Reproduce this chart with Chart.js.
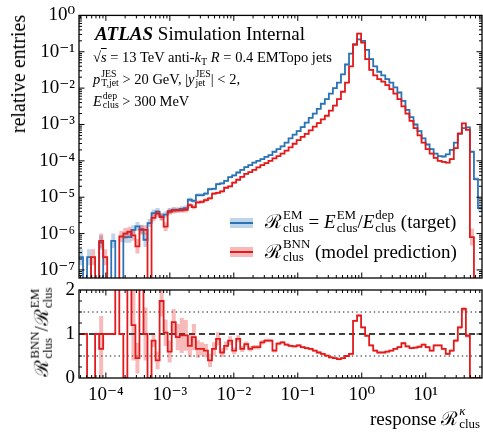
<!DOCTYPE html>
<html lang="en">
<head>
<meta charset="UTF-8">
<title>BNN cluster response</title>
<script src="https://cdn.jsdelivr.net/npm/chart.js"></script>
<style>
  body { margin: 0; background: #fff; }
  #wrap { position: relative; width: 483px; height: 433px; overflow: hidden;
          font-family: "Liberation Serif", "DejaVu Serif", serif; color: #000; }
  .pane { position: absolute; left: 0; width: 483px; }
  .t { position: absolute; white-space: nowrap; line-height: 1.6; }
  .ss { display: inline-block; vertical-align: -0.3em; font-size: 0.68em; line-height: 1; text-align: left; margin-left: 1px; }
  .ss span { display: block; }
  .sb { font-size: 0.7em; vertical-align: -0.25em; }
  .rot { position: absolute; white-space: nowrap; line-height: 1.6; transform: translate(-50%, -50%) rotate(-90deg); }
  .hd { position: absolute; }
</style>
</head>
<body>
<div id="wrap">
  <div class="pane" style="top:0;height:300px"><canvas id="mainChart"></canvas></div>
  <div class="pane" style="top:274px;height:134px"><canvas id="ratioChart"></canvas></div>

  <div class="rot" style="left:18px;top:74px;font-size:20px;line-height:1">relative entries</div>
  <div class="rot" style="left:42px;top:332px;font-size:19px">ℛ<span class="ss"><span>BNN</span><span>clus</span></span>/ℛ<span class="ss"><span>EM</span><span>clus</span></span></div>

  <div class="t" style="left:95px;top:19px;font-size:19px"><b><i>ATLAS</i></b> Simulation Internal</div>
  <div class="t" style="left:93px;top:46px;font-size:14.5px">√<span style="text-decoration:overline"><i>s</i></span> = 13 TeV anti-<i>k</i><span class="sb">T</span> <i>R</i> = 0.4 EMTopo jets</div>
  <div class="t" style="left:93px;top:67.5px;font-size:14.5px"><i>p</i><span class="ss"><span>JES</span><span>T,jet</span></span> &gt; 20 GeV, |<i>y</i><span class="ss"><span>JES</span><span>jet</span></span>| &lt; 2,</div>
  <div class="t" style="left:93px;top:89.5px;font-size:14.5px"><i>E</i><span class="ss"><span>dep</span><span>clus</span></span> &gt; 300 MeV</div>

  <div class="hd" style="left:230px;top:218px;width:23px;height:10px;background:rgba(43,115,181,0.3)"></div>
  <div class="hd" style="left:230px;top:222px;width:23px;height:2px;background:#2b73b5"></div>
  <div class="hd" style="left:230px;top:247px;width:23px;height:10px;background:rgba(227,26,28,0.3)"></div>
  <div class="hd" style="left:230px;top:251px;width:23px;height:2px;background:#e31a1c"></div>
  <div class="t" style="left:265px;top:207px;font-size:19px">ℛ<span class="ss"><span>EM</span><span>clus</span></span> = <i>E</i><span class="ss"><span>EM</span><span>clus</span></span>/<i>E</i><span class="ss"><span>dep</span><span>clus</span></span> (target)</div>
  <div class="t" style="left:265px;top:236.5px;font-size:19px">ℛ<span class="ss"><span>BNN</span><span>clus</span></span> (model prediction)</div>

  <div class="t" style="left:370px;top:403.5px;font-size:19px">response ℛ<span class="ss"><span><i>κ</i></span><span>clus</span></span></div>
</div>

<script>
  // 100 log-spaced bins in the cluster response
  const nBins = 100;
  const logLo = -4.42, logHi = 1.88;

  // log10(relative entries) per bin, null = empty bin
  const blueLog = [
    -6.65, null, -6.65, null, null, -6.25, null, null, -6.2, null,
    null, -6.1, -6.1, -5.9, -5.8, -5.88, -6.17, -5.71, -5.44, -5.4,
    -5.53, -5.48, -5.38, -5.35, -5.35, -5.32, -5.3, -5.07, -5.1, -4.94,
    -4.94, -4.9, -4.78, -4.77, -4.64, -4.62, -4.55, -4.45, -4.4, -4.32,
    -4.25, -4.17, -4.12, -4.05, -4.0, -3.95, -3.89, -3.84, -3.75, -3.68,
    -3.6, -3.5, -3.38, -3.28, -3.18, -3.07, -2.95, -2.82, -2.7, -2.57,
    -2.43, -2.3, -2.15, -2.0, -1.85, -1.62, -1.35, -1.05, -0.8, -0.66,
    -0.7, -0.95, -1.2, -1.4, -1.55, -1.65, -1.75, -1.85, -1.98, -2.12,
    -2.35, -2.6, -2.8, -3.0, -3.18, -3.38, -3.55, -3.68, -3.8, -3.87,
    -3.88, -3.82, -3.7, -3.5, -3.25, -3.1, -3.08, -3.75, -4.5, -5.3
  ];
  const redLog = [
    null, null, null, -6.65, null, -6.2, -6.65, null, null, null,
    -6.08, -6.0, -5.95, -6.05, -6.35, -5.9, -5.9, null, -5.57, -5.45,
    -5.55, -5.81, -5.4, -5.37, -5.36, -5.36, -5.35, -5.22, -5.27, -5.14,
    -5.13, -5.08, -5.03, -4.9, -4.88, -4.84, -4.74, -4.7, -4.6, -4.52,
    -4.44, -4.36, -4.31, -4.25, -4.18, -4.12, -4.06, -4.0, -3.93, -3.87,
    -3.8, -3.72, -3.63, -3.53, -3.43, -3.34, -3.26, -3.16, -3.06, -2.96,
    -2.86, -2.76, -2.62, -2.48, -2.3, -2.1, -1.85, -1.4, -0.8, -0.5,
    -0.75, -1.2, -1.5, -1.65, -1.75, -1.82, -1.92, -2.03, -2.15, -2.3,
    -2.5, -2.7, -2.9, -3.1, -3.3, -3.5, -3.68, -3.8, -3.92, -4.0,
    -4.03, -4.05, -3.95, -3.65, -3.25, -2.97, -3.15, -6.1, null, null
  ];
  // half width of the uncertainty band, in decades
  const blueErr = [
    0.22, 0, 0.22, 0, 0, 0.2, 0, 0, 0.2, 0,
    0, 0.15, 0.15, 0.13, 0.12, 0.12, 0.2, 0.11, 0.1, 0.1,
    0.1, 0.09, 0.08, 0.08, 0.07, 0.07, 0.07, 0.06, 0.06, 0.05,
    0.05, 0.05, 0.04, 0.04, 0.035, 0.035, 0.03, 0.03, 0.03, 0.03,
    0.025, 0.025, 0.025, 0.025, 0.025, 0.025, 0.02, 0.02, 0.02, 0.02,
    0.02, 0.02, 0.02, 0.02, 0.02, 0.02, 0.02, 0.02, 0.02, 0.02,
    0.02, 0.02, 0.02, 0.02, 0.02, 0.02, 0.02, 0.02, 0.02, 0.02,
    0.02, 0.02, 0.02, 0.02, 0.02, 0.02, 0.02, 0.02, 0.02, 0.02,
    0.02, 0.02, 0.02, 0.02, 0.02, 0.02, 0.02, 0.02, 0.02, 0.02,
    0.02, 0.02, 0.02, 0.02, 0.02, 0.02, 0.02, 0.03, 0.05, 0.09
  ];
  const redErr = [
    0, 0, 0, 0.22, 0, 0.2, 0.22, 0, 0, 0,
    0.15, 0.15, 0.14, 0.15, 0.2, 0.13, 0.13, 0, 0.1, 0.1,
    0.1, 0.12, 0.08, 0.08, 0.07, 0.07, 0.07, 0.06, 0.06, 0.05,
    0.05, 0.05, 0.04, 0.04, 0.035, 0.035, 0.03, 0.03, 0.03, 0.03,
    0.025, 0.025, 0.025, 0.025, 0.025, 0.025, 0.02, 0.02, 0.02, 0.02,
    0.02, 0.02, 0.02, 0.02, 0.02, 0.02, 0.02, 0.02, 0.02, 0.02,
    0.02, 0.02, 0.02, 0.02, 0.02, 0.02, 0.02, 0.02, 0.02, 0.02,
    0.02, 0.02, 0.02, 0.02, 0.02, 0.02, 0.02, 0.02, 0.02, 0.02,
    0.02, 0.02, 0.02, 0.02, 0.02, 0.02, 0.02, 0.02, 0.02, 0.02,
    0.02, 0.02, 0.02, 0.02, 0.02, 0.02, 0.02, 0.23, 0, 0
  ];
  // ratio BNN / EM per bin (3 = off the top of the panel)
  const ratioVals = [
    1, 1, 0, 0, 1, 0.66, 1, 1, 1, 3,
    1, 0, 3, 1.2, 0.45, 3, 1.0, 0, 0.85, 0.4,
    1.75, 1.03, 0.6, 1.27, 0.93, 0.97, 0.97, 0.73, 0.93, 0.66,
    0.66, 0.62, 0.4, 0.66, 0.89, 0.58, 0.73, 0.85, 0.62, 0.89,
    0.66, 0.77, 0.66, 0.7, 0.7, 0.81, 0.85, 0.85, 0.62, 0.78,
    0.81, 0.76, 0.73, 0.72, 0.74, 0.7, 0.68, 0.66, 0.62, 0.58,
    0.55, 0.51, 0.47, 0.45, 0.43, 0.45, 0.5, 0.55, 1.3, 1.42,
    1.15, 0.96, 0.74, 0.62, 0.58, 0.58, 0.6, 0.62, 0.66, 0.7,
    0.79, 0.72, 0.68, 0.69, 0.71, 0.76, 0.7, 0.62, 0.74, 0.74,
    0.66, 0.55, 0.62, 0.85, 1.15, 1.57, 0.96, 0, 0, 0
  ];
  const ratioErr = [
    0, 0, 0, 0, 0, 0.75, 0, 0, 0, 0,
    0, 0, 0, 0.8, 0.35, 0, 0.6, 0, 0.15, 0.2,
    0.35, 0.3, 0.25, 0.3, 0.3, 0.4, 0.35, 0.25, 0.3, 0.2,
    0.15, 0.15, 0.15, 0.15, 0.15, 0.1, 0.1, 0.1, 0.08, 0.08,
    0.07, 0.06, 0.06, 0.05, 0.05, 0.05, 0.04, 0.04, 0.04, 0.04,
    0.03, 0.03, 0.03, 0.03, 0.03, 0.03, 0.03, 0.03, 0.03, 0.03,
    0.025, 0.025, 0.025, 0.025, 0.025, 0.025, 0.025, 0.025, 0.025, 0.025,
    0.025, 0.025, 0.025, 0.025, 0.025, 0.025, 0.025, 0.025, 0.025, 0.025,
    0.025, 0.025, 0.025, 0.025, 0.025, 0.025, 0.025, 0.025, 0.025, 0.025,
    0.03, 0.03, 0.03, 0.035, 0.04, 0.05, 0.05, 0, 0, 0
  ];
  const xTickDecades = [-4, -3, -2, -1, 0, 1];
  const yTickDecades = [-7, -6, -5, -4, -3, -2, -1, 0];
  const refLevels = [0.5, 1, 1.5];

  const blue = '#2b73b5', blueBand = 'rgba(43,115,181,0.3)';
  const red = '#e31a1c', redBand = 'rgba(227,26,28,0.3)';
  const EMPTY = 1e-12;

  const edges = [];
  for (let i = 0; i <= nBins; i++) edges.push(Math.pow(10, logLo + (logHi - logLo) * i / nBins));

  // each bin -> two points (left edge, right edge)
  function histPoints(vals) {
    const pts = [];
    vals.forEach((v, i) => pts.push({x: edges[i], y: v}, {x: edges[i + 1], y: v}));
    return pts;
  }
  const fromLog = (lg, e, s) => lg === null ? EMPTY : Math.pow(10, lg + s * e);

  const sup = {'-': '⁻', '0': '⁰', '1': '¹', '2': '²', '3': '³', '4': '⁴', '5': '⁵', '6': '⁶', '7': '⁷', '8': '⁸', '9': '⁹'};
  const powLabel = v => '10' + String(Math.round(Math.log10(v))).split('').map(c => sup[c]).join('');

  function logTicks(dLo, dHi) {
    const t = [];
    for (let d = dLo; d <= dHi; d++)
      for (let k = 1; k <= 9; k++) t.push([k * Math.pow(10, d), k === 1 ? 5.5 : 3]);
    return t;
  }

  const frameTicks = {
    id: 'frameTicks',
    afterDatasetsDraw(chart, args, opts) {
      const {ctx, chartArea: a} = chart;
      const xs = chart.scales.x, ys = chart.scales.y;
      ctx.save();
      ctx.strokeStyle = '#000';
      ctx.lineWidth = 1;
      ctx.beginPath();
      opts.xTicks.forEach(([v, len]) => {
        const px = xs.getPixelForValue(v);
        if (px <= a.left + 0.5 || px >= a.right - 0.5) return;
        ctx.moveTo(px, a.bottom); ctx.lineTo(px, a.bottom - len);
        ctx.moveTo(px, a.top); ctx.lineTo(px, a.top + len);
      });
      opts.yTicks.forEach(([v, len]) => {
        const py = ys.getPixelForValue(v);
        if (py <= a.top + 0.5 || py >= a.bottom - 0.5) return;
        ctx.moveTo(a.left, py); ctx.lineTo(a.left + len, py);
        ctx.moveTo(a.right, py); ctx.lineTo(a.right - len, py);
      });
      ctx.stroke();
      ctx.lineWidth = 1.3;
      ctx.strokeRect(a.left, a.top, a.right - a.left, a.bottom - a.top);
      ctx.restore();
    }
  };

  const refLines = {
    id: 'refLines',
    beforeDatasetsDraw(chart) {
      const {ctx, chartArea: a} = chart;
      const ys = chart.scales.y;
      ctx.save();
      refLevels.forEach(lv => {
        const py = ys.getPixelForValue(lv);
        if (lv === 1) { ctx.strokeStyle = '#000'; ctx.lineWidth = 1.5; ctx.setLineDash([6, 4]); }
        else { ctx.strokeStyle = '#666'; ctx.lineWidth = 1.4; ctx.setLineDash([1.4, 3]); }
        ctx.beginPath(); ctx.moveTo(a.left, py); ctx.lineTo(a.right, py); ctx.stroke();
      });
      ctx.restore();
    }
  };

  Chart.defaults.font.family = "'Liberation Serif', 'DejaVu Serif', serif";
  Chart.defaults.font.size = 19;
  Chart.defaults.color = '#000';

  const lineDs = (data, color, width, order, extra) => Object.assign({
    data, borderColor: color, borderWidth: width, pointRadius: 0, tension: 0,
    borderJoinStyle: 'miter', fill: false, order
  }, extra || {});

  const xMin = edges[0], xMax = edges[nBins];

  new Chart(document.getElementById('mainChart'), {
    type: 'line',
    data: {
      datasets: [
        lineDs(histPoints(blueLog.map((v, i) => fromLog(v, blueErr[i], 1))), 'rgba(0,0,0,0)', 0, 6),
        lineDs(histPoints(blueLog.map((v, i) => fromLog(v, blueErr[i], -1))), 'rgba(0,0,0,0)', 0, 5, {fill: '-1', backgroundColor: blueBand}),
        lineDs(histPoints(blueLog.map(v => fromLog(v, 0, 0))), blue, 1.8, 4),
        lineDs(histPoints(redLog.map((v, i) => fromLog(v, redErr[i], 1))), 'rgba(0,0,0,0)', 0, 3),
        lineDs(histPoints(redLog.map((v, i) => fromLog(v, redErr[i], -1))), 'rgba(0,0,0,0)', 0, 2, {fill: '-1', backgroundColor: redBand}),
        lineDs(histPoints(redLog.map(v => fromLog(v, 0, 0))), red, 1.8, 1)
      ]
    },
    options: {
      responsive: true,
      maintainAspectRatio: false,
      animation: false,
      layout: {padding: {left: 0, right: 1, top: 15, bottom: 22}},
      scales: {
        x: {type: 'logarithmic', min: xMin, max: xMax, display: false},
        y: {
          type: 'logarithmic', min: Math.pow(10, -7.2), max: 1,
          grid: {display: false, drawTicks: false},
          border: {display: false},
          afterBuildTicks: s => { s.ticks = yTickDecades.map(d => ({value: Math.pow(10, d)})); },
          afterFit: s => { s.width = 79; },
          ticks: {autoSkip: false, padding: 4, callback: powLabel}
        }
      },
      plugins: {
        legend: {display: false},
        tooltip: {enabled: false},
        frameTicks: {xTicks: logTicks(-5, 1), yTicks: logTicks(-8, -1)}
      }
    },
    plugins: [frameTicks]
  });

  new Chart(document.getElementById('ratioChart'), {
    type: 'line',
    data: {
      datasets: [
        lineDs(histPoints(ratioVals.map((v, i) => v + ratioErr[i])), 'rgba(0,0,0,0)', 0, 3),
        lineDs(histPoints(ratioVals.map((v, i) => v - ratioErr[i])), 'rgba(0,0,0,0)', 0, 2, {fill: '-1', backgroundColor: redBand}),
        lineDs(histPoints(ratioVals), red, 1.8, 1)
      ]
    },
    options: {
      responsive: true,
      maintainAspectRatio: false,
      animation: false,
      layout: {padding: {left: 0, right: 1, top: 16, bottom: 0}},
      scales: {
        x: {
          type: 'logarithmic', min: xMin, max: xMax,
          grid: {display: false, drawTicks: false},
          border: {display: false},
          afterBuildTicks: s => { s.ticks = xTickDecades.map(d => ({value: Math.pow(10, d)})); },
          afterFit: s => { s.height = 30; },
          ticks: {autoSkip: false, maxRotation: 0, padding: 6, callback: powLabel}
        },
        y: {
          type: 'linear', min: 0, max: 2,
          grid: {display: false, drawTicks: false},
          border: {display: false},
          afterFit: s => { s.width = 79; },
          ticks: {stepSize: 1, padding: 4}
        }
      },
      plugins: {
        legend: {display: false},
        tooltip: {enabled: false},
        frameTicks: {
          xTicks: logTicks(-5, 1),
          yTicks: [[0.25, 3], [0.5, 3], [0.75, 3], [1, 5.5], [1.25, 3], [1.5, 3], [1.75, 3]]
        }
      }
    },
    plugins: [frameTicks, refLines]
  });
</script>
</body>
</html>
